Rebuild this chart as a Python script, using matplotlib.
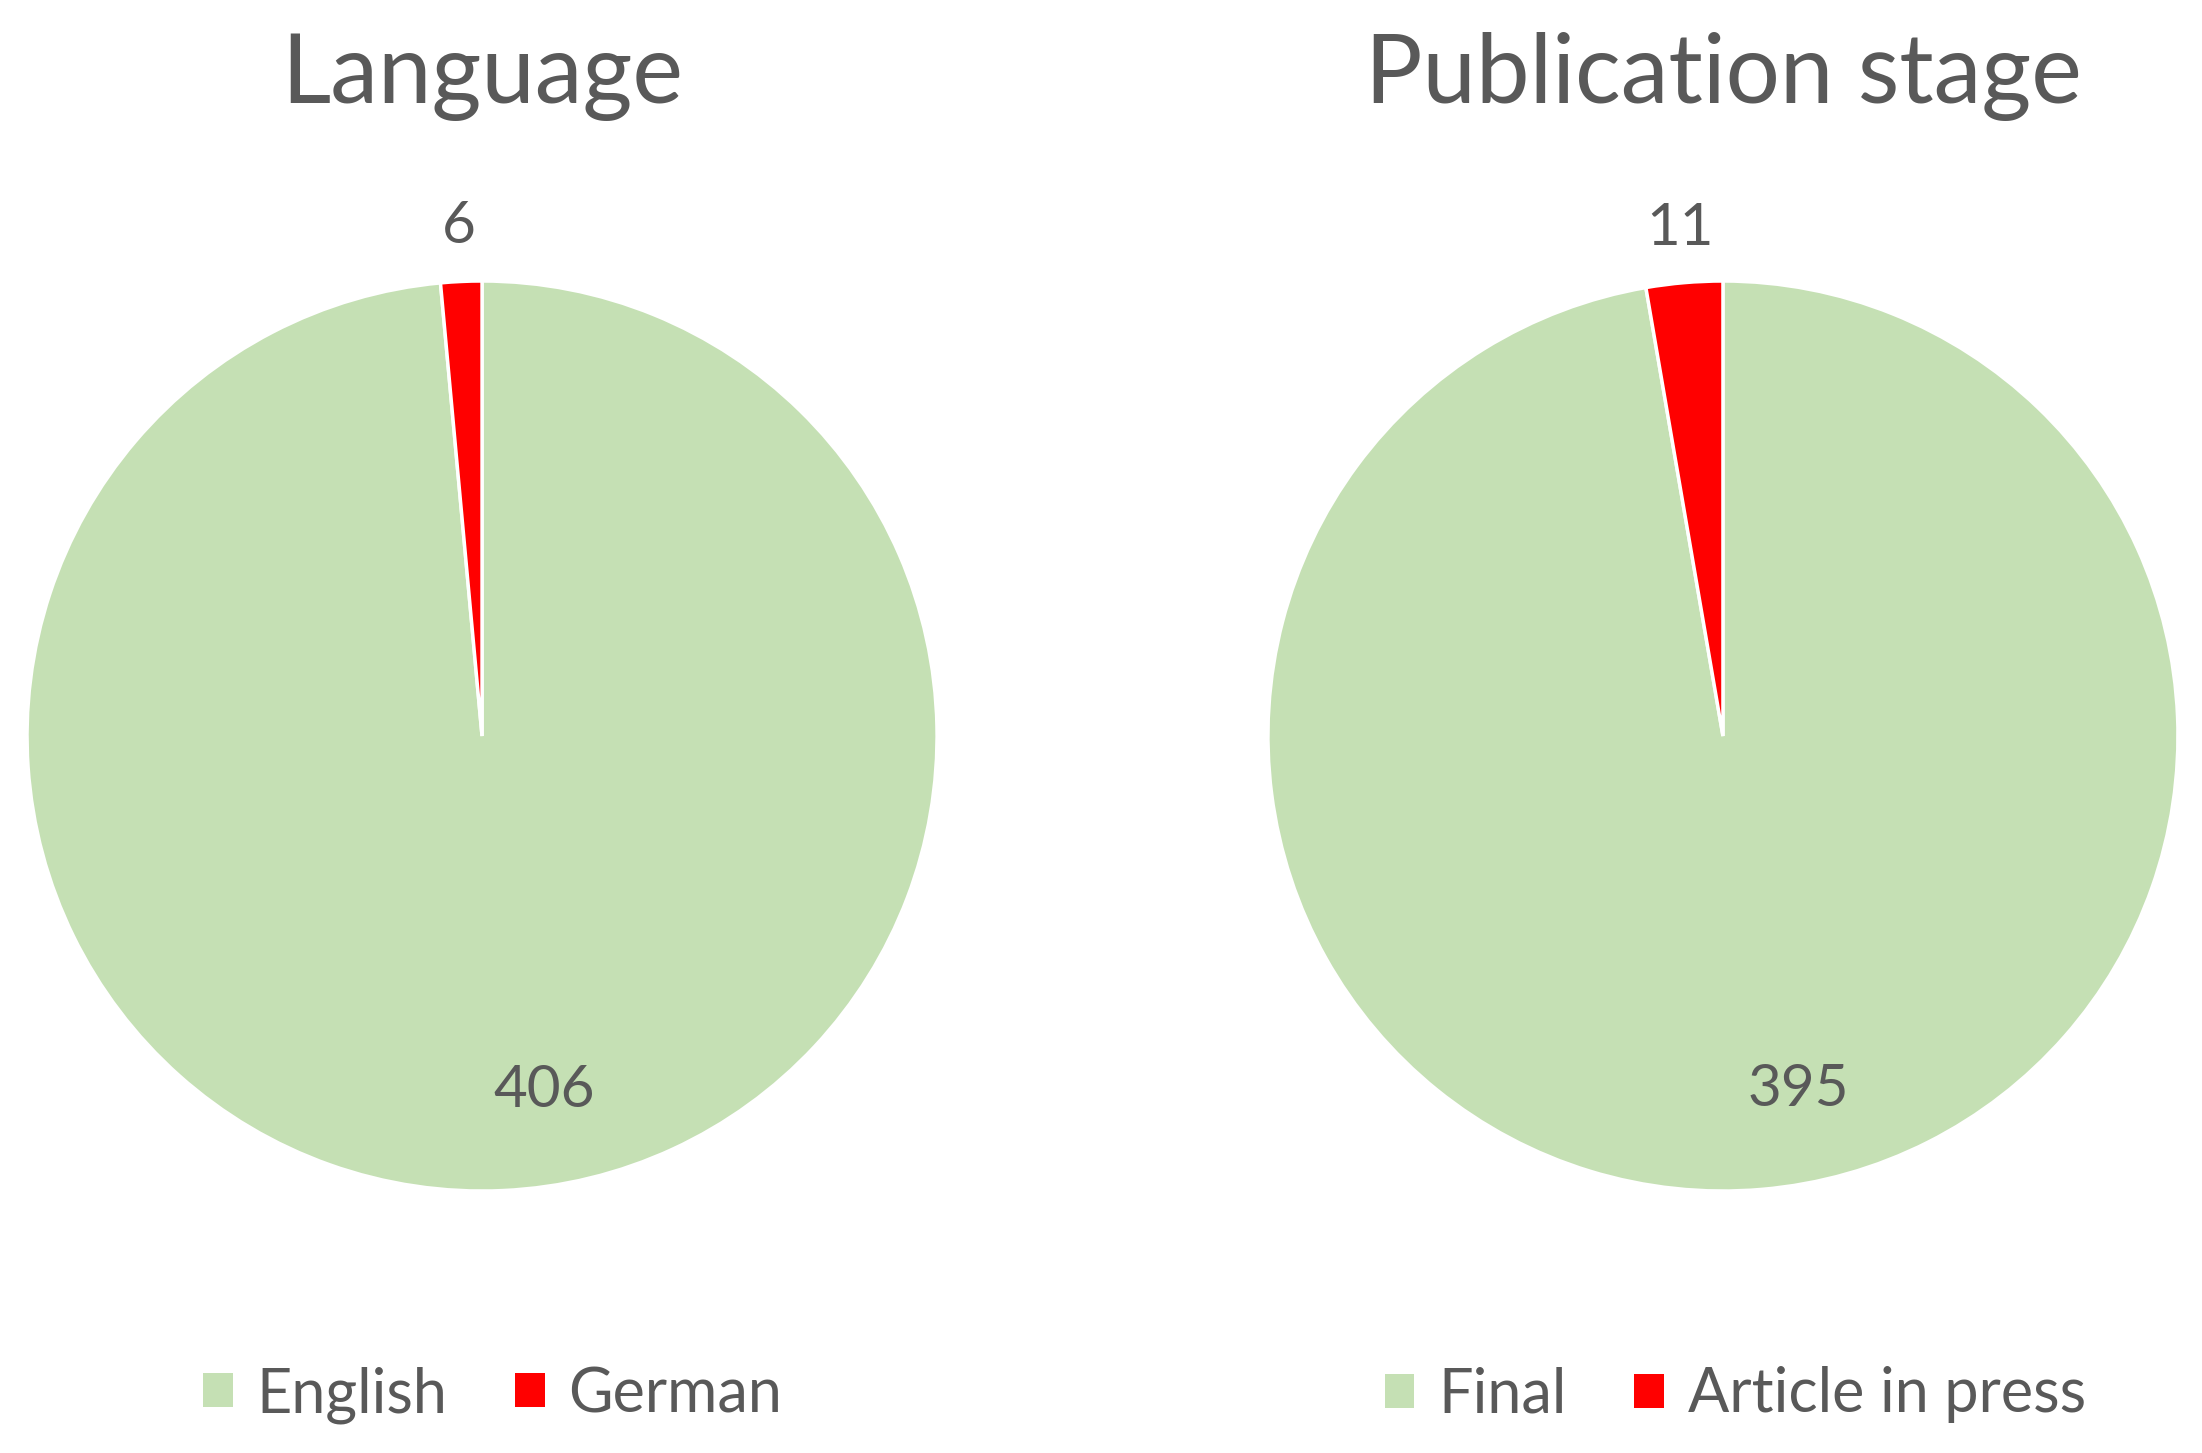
import numpy as np
import matplotlib
matplotlib.use("Agg")
from matplotlib import pyplot as plt
from matplotlib.patches import Patch

plt.rcParams['font.family'] = ['Lato', 'DejaVu Sans']

# data
lang_labels = ['English', 'German']
lang_counts = [406, 6]
stage_labels = ['Final', 'Article in press']
stage_counts = [395, 11]
titles = ['Language', 'Publication stage']

colors = ['#C5E0B4', '#FF0000']
text_col = '#595959'

fig = plt.figure(figsize=(22.02, 14.53), dpi=100)

ax_left = fig.add_axes([0.01226, 0.1803, 0.4133, 0.6263])
ax_right = fig.add_axes([0.5758, 0.1803, 0.4133, 0.6263])


def draw_pie(ax, counts, labels, title, legend_x):
    wedges, _ = ax.pie(counts, colors=colors, startangle=90, counterclock=False,
                       radius=1, wedgeprops=dict(edgecolor='white', linewidth=2.5))
    ax.set_xlim(-1, 1)
    ax.set_ylim(-1, 1)
    ax.set_aspect('equal')
    ax.axis('off')

    # data labels: big slice inside, small slice just outside
    for w, n in zip(wedges, counts):
        mid = np.deg2rad((w.theta1 + w.theta2) / 2)
        if n == max(counts):
            x, y = 0.78 * np.cos(mid) + 0.1, 0.78 * np.sin(mid)
        else:
            x, y = 1.12 * np.cos(mid), 1.12 * np.sin(mid)
        ax.text(x, y, str(n), ha='center', va='center', fontsize=42, color=text_col)

    pos = ax.get_position()
    fig.text((pos.x0 + pos.x1) / 2, 0.929, title, ha='center', va='baseline',
             fontsize=69, color=text_col)

    handles = [Patch(facecolor=c, edgecolor='none') for c in colors]
    fig.legend(handles, labels, loc='center', bbox_to_anchor=(legend_x, 0.040),
               ncol=2, frameon=False, fontsize=44, labelcolor=text_col,
               handlelength=0.49, handleheight=0.48, handletextpad=0.39,
               columnspacing=1.1, borderpad=0)


draw_pie(ax_left, lang_counts, lang_labels, titles[0], 0.2237)
draw_pie(ax_right, stage_counts, stage_labels, titles[1], 0.788)

fig.savefig('out.png', dpi=100)
